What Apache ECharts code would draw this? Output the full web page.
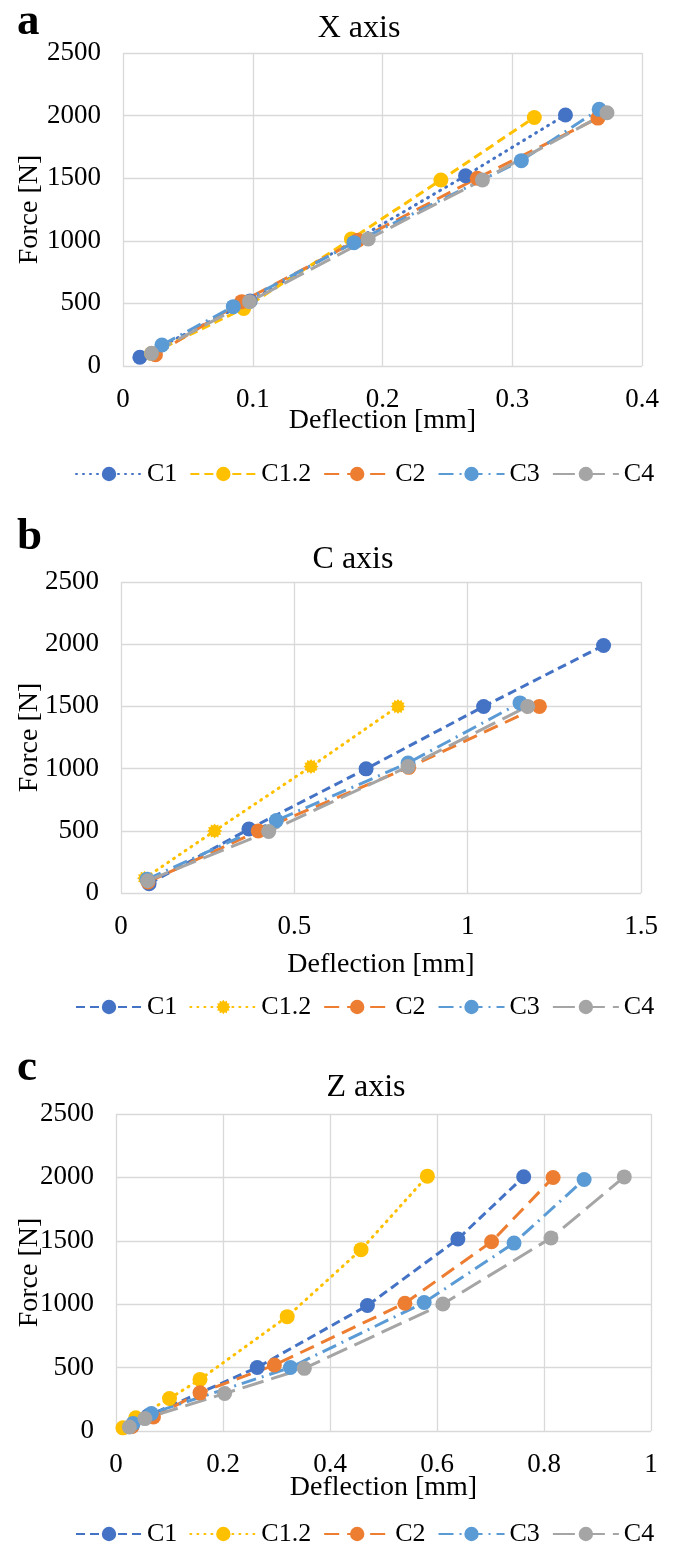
<!DOCTYPE html>
<html>
<head>
<meta charset="utf-8">
<script src="https://cdn.jsdelivr.net/npm/echarts@6/dist/echarts.min.js"></script>
<style>
  body { margin: 0; background: #fff; }
  .graph { position: absolute; left: 0; width: 674px; }
</style>
</head>
<body>
<div id="graphA" class="graph" style="top:0;height:505px"></div>
<div id="graphB" class="graph" style="top:505px;height:525px"></div>
<div id="graphC" class="graph" style="top:1030px;height:512px"></div>
<script>
// deflection [mm], force [N] pairs
var xC1  = [[0.013, 70], [0.098, 520], [0.178, 1000], [0.264, 1520], [0.341, 2005]];
var xC12 = [[0.022, 100], [0.093, 460], [0.176, 1014], [0.245, 1486], [0.317, 1985]];
var xC2  = [[0.025, 90], [0.0915, 514], [0.181, 1005], [0.273, 1500], [0.366, 1980]];
var xC3  = [[0.030, 168], [0.085, 474], [0.178, 985], [0.307, 1640], [0.367, 2050]];
var xC4  = [[0.022, 101], [0.0975, 514], [0.189, 1014], [0.277, 1486], [0.373, 2023]];

var cC1  = [[0.081, 75], [0.369, 514], [0.707, 998], [1.046, 1499], [1.392, 1990]];
var cC12 = [[0.068, 118], [0.27, 499], [0.548, 1016], [0.799, 1500]];
var cC2  = [[0.078, 88], [0.396, 499], [0.83, 1010], [1.207, 1500]];
var cC3  = [[0.075, 110], [0.448, 582], [0.828, 1045], [1.151, 1528]];
var cC4  = [[0.077, 99], [0.426, 494], [0.828, 1016], [1.173, 1500]];

var zC1  = [[0.03, 40], [0.06, 120], [0.264, 501], [0.47, 990], [0.639, 1514], [0.762, 2005]];
var zC12 = [[0.013, 25], [0.037, 105], [0.1, 256], [0.157, 407], [0.32, 902], [0.458, 1430], [0.582, 2010]];
var zC2  = [[0.03, 35], [0.07, 110], [0.157, 301], [0.296, 520], [0.54, 1008], [0.702, 1493], [0.817, 1999]];
var zC3  = [[0.032, 60], [0.066, 138], [0.326, 501], [0.576, 1013], [0.744, 1482], [0.875, 1983]];
var zC4  = [[0.025, 32], [0.054, 98], [0.203, 296], [0.352, 494], [0.611, 1002], [0.813, 1522], [0.950, 2004]];

var names = ['C1', 'C1.2', 'C2', 'C3', 'C4'];
var forceTicks = [0, 500, 1000, 1500, 2000, 2500];

var font = 'Liberation Serif, Times New Roman, serif';
var colors = { C1: '#4472C4', 'C1.2': '#FFC000', C2: '#ED7D31', C3: '#5B9BD5', C4: '#A5A5A5' };

// dash patterns used by the original spreadsheet styles
var dot = [1, 6];
var shortDash = [9, 5];
var longDash = [15, 8];
var dashDot = [15, 6, 2, 6];
var longerDash = [22, 8];

function burst() {
    var p = '';
    for (var i = 0; i < 24; i++) {
        var a = i * Math.PI / 12;
        var r = i % 2 ? 38 : 50;
        p += (i ? 'L' : 'M') + (50 + r * Math.sin(a)).toFixed(1) + ' ' + (50 - r * Math.cos(a)).toFixed(1);
    }
    return 'path://' + p + 'Z';
}

function line(name, data, dash, symbol) {
    return {
        name: name,
        type: 'line',
        data: data,
        symbol: symbol || 'circle',
        symbolSize: 15,
        itemStyle: { color: colors[name] },
        lineStyle: { color: colors[name], width: 3, type: dash, cap: dash === dot ? 'round' : 'butt' }
    };
}

function build(cfg) {
    return {
        animation: false,
        textStyle: { fontFamily: font, color: '#000' },
        title: {
            text: cfg.title, left: cfg.titleX, top: cfg.titleTop, textAlign: 'center', padding: 0,
            textStyle: { fontFamily: font, fontSize: 32, fontWeight: 'normal', color: '#000' }
        },
        graphic: [{
            type: 'text', left: 17, top: cfg.letterTop,
            style: { text: cfg.letter, font: 'bold 45px ' + font, fill: '#000' }
        }],
        grid: cfg.grid,
        legend: {
            data: names, left: 70, top: cfg.legendTop,
            itemWidth: 66, itemHeight: 18, itemGap: 12,
            textStyle: { fontFamily: font, fontSize: 26, color: '#000' }
        },
        xAxis: {
            type: 'value', min: 0, max: cfg.xMax, interval: cfg.xStep,
            name: 'Deflection [mm]', nameLocation: 'middle', nameGap: cfg.xNameGap,
            nameMoveOverlap: false,
            nameTextStyle: { fontFamily: font, fontSize: 28, color: '#000' },
            axisLine: { show: false }, axisTick: { show: false },
            axisLabel: { fontFamily: font, fontSize: 27, color: '#000', margin: 20 },
            splitLine: { lineStyle: { color: '#D9D9D9', width: 1.3 } }
        },
        yAxis: {
            type: 'value', min: forceTicks[0], max: forceTicks[forceTicks.length - 1], interval: 500,
            name: 'Force [N]', nameLocation: 'middle', nameGap: cfg.yNameGap,
            nameMoveOverlap: false,
            nameTextStyle: { fontFamily: font, fontSize: 28, color: '#000' },
            axisLine: { show: false }, axisTick: { show: false },
            axisLabel: {
                fontFamily: font, fontSize: 27, color: '#000', margin: 22,
                formatter: function (v) { return String(v); }
            },
            splitLine: { lineStyle: { color: '#D9D9D9', width: 1.3 } }
        },
        series: cfg.series
    };
}

var chartA = echarts.init(document.getElementById('graphA'));
chartA.setOption(build({
    title: 'X axis', titleX: 359, titleTop: 13, letter: 'a', letterTop: 0,
    grid: { left: 123, right: 32, top: 53, bottom: 139 },
    legendTop: 456, xMax: 0.4, xStep: 0.1, xNameGap: 41, yNameGap: 79,
    series: [
        line('C1', xC1, dot),
        line('C1.2', xC12, shortDash),
        line('C2', xC2, longDash),
        line('C3', xC3, dashDot),
        line('C4', xC4, longerDash)
    ]
}));

var chartB = echarts.init(document.getElementById('graphB'));
chartB.setOption(build({
    title: 'C axis', titleX: 353, titleTop: 39, letter: 'b', letterTop: 10,
    grid: { left: 121, right: 33, top: 77, bottom: 137 },
    legendTop: 484, xMax: 1.5, xStep: 0.5, xNameGap: 58, yNameGap: 77,
    series: [
        line('C1', cC1, shortDash),
        line('C1.2', cC12, dot, burst()),
        line('C2', cC2, longDash),
        line('C3', cC3, dashDot),
        line('C4', cC4, longerDash)
    ]
}));

var chartC = echarts.init(document.getElementById('graphC'));
chartC.setOption(build({
    title: 'Z axis', titleX: 366, titleTop: 42, letter: 'c', letterTop: 16,
    grid: { left: 116, right: 23, top: 84, bottom: 111 },
    legendTop: 486, xMax: 1, xStep: 0.2, xNameGap: 43, yNameGap: 72,
    series: [
        line('C1', zC1, shortDash),
        line('C1.2', zC12, dot),
        line('C2', zC2, longDash),
        line('C3', zC3, dashDot),
        line('C4', zC4, longerDash)
    ]
}));
</script>
</body>
</html>
